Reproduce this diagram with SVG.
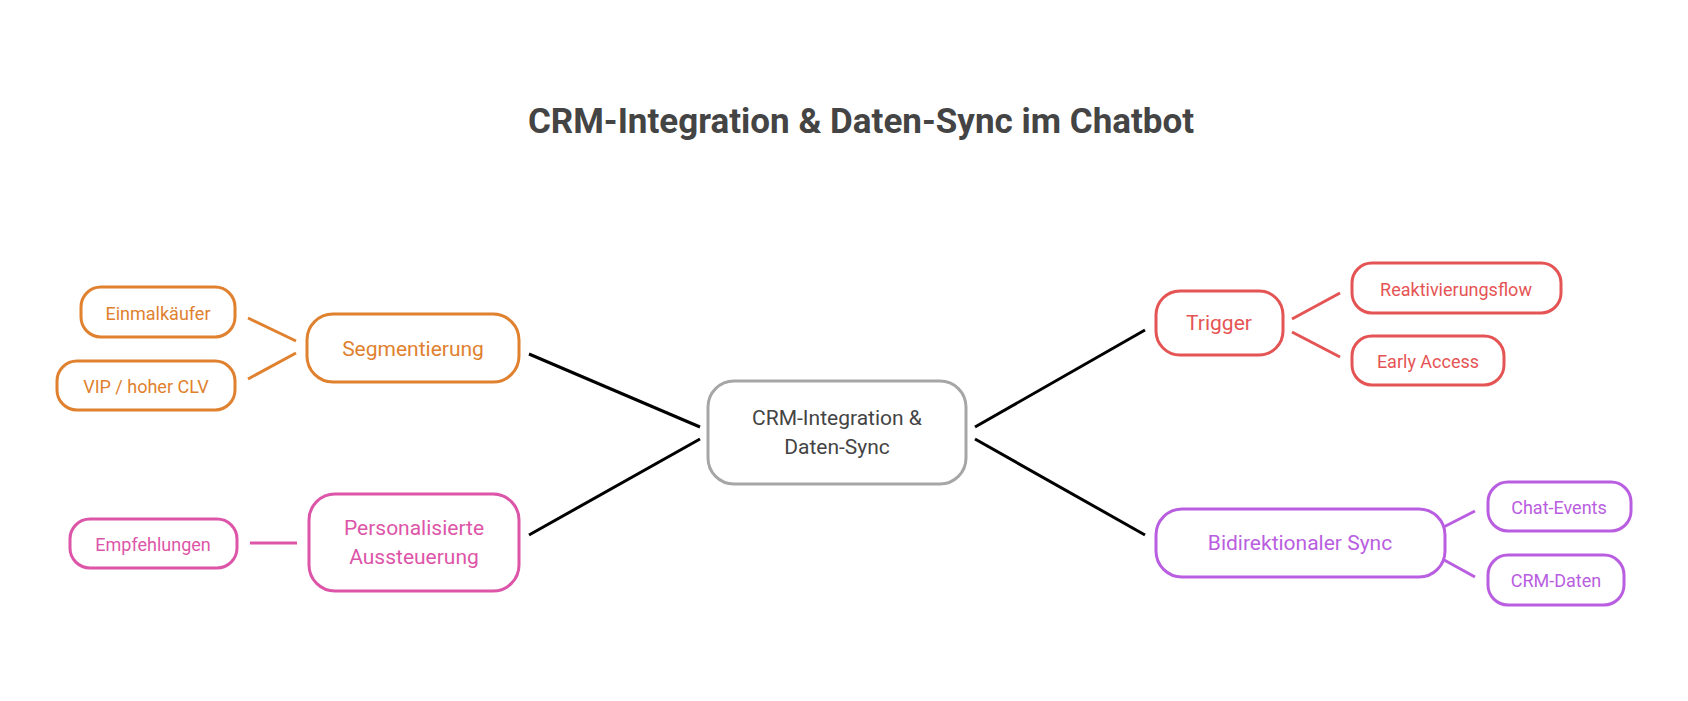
<svg xmlns="http://www.w3.org/2000/svg" width="1688" height="701" viewBox="0 0 1688 701">
<style>
text{font-family:Roboto,"Liberation Sans",sans-serif;text-anchor:middle;dominant-baseline:central}
rect{fill:#fff;stroke-width:3}
.o rect{stroke:#e0812f}.o text{fill:#e0812f}
.p rect{stroke:#dd55a8}.p text{fill:#dd55a8}
.r rect{stroke:#e55454}.r text{fill:#e55454}
.v rect{stroke:#b95ee0}.v text{fill:#b95ee0}
.s{font-size:18px}.m{font-size:21px}
line{stroke-width:3}
</style>
<rect x="0" y="0" width="1688" height="701" style="fill:#fff;stroke:none"/>
<text x="861" y="121" style="font-size:35px;font-weight:bold;fill:#444">CRM-Integration &amp; Daten-Sync im Chatbot</text>
<g id="connectors">
<g stroke="#000"><line x1="529" y1="354" x2="700" y2="427"/><line x1="529" y1="535" x2="700" y2="439"/><line x1="975" y1="427" x2="1145" y2="330"/><line x1="975" y1="439" x2="1145" y2="535"/></g>
<g stroke="#e0812f"><line x1="248" y1="318" x2="296" y2="341"/><line x1="248" y1="379" x2="296" y2="353"/></g>
<line x1="250" y1="543" x2="297" y2="543" stroke="#dd55a8"/>
<g stroke="#e55454"><line x1="1292" y1="319" x2="1340" y2="293"/><line x1="1292" y1="332" x2="1340" y2="357"/></g>
<g stroke="#b95ee0"><line x1="1426" y1="536" x2="1475" y2="511"/><line x1="1426" y1="550" x2="1475" y2="577"/></g>
</g>
<g id="center"><rect x="708" y="381" width="258" height="103" rx="26" style="stroke:#a6a6a6"/><text x="837" y="418" class="m" fill="#444">CRM-Integration &amp;</text><text x="837" y="447" class="m" fill="#444">Daten-Sync</text></g>
<g id="seg" class="o"><rect x="307" y="314" width="212" height="68" rx="26"/><text x="413" y="349" class="m">Segmentierung</text></g>
<g id="einmal" class="o"><rect x="81" y="287" width="154" height="50" rx="20"/><text x="158" y="313" class="s">Einmalkäufer</text></g>
<g id="vip" class="o"><rect x="57" y="361" width="178" height="49" rx="20"/><text x="146" y="386" class="s">VIP / hoher CLV</text></g>
<g id="pers" class="p"><rect x="309" y="494" width="210" height="97" rx="26"/><text x="414" y="528" class="m">Personalisierte</text><text x="414" y="557" class="m">Aussteuerung</text></g>
<g id="empf" class="p"><rect x="70" y="519" width="167" height="49" rx="20"/><text x="153" y="544" class="s">Empfehlungen</text></g>
<g id="trigger" class="r"><rect x="1156" y="291" width="127" height="64" rx="24"/><text x="1219" y="323" class="m">Trigger</text></g>
<g id="reakt" class="r"><rect x="1352" y="263" width="209" height="50" rx="20"/><text x="1456" y="289" class="s">Reaktivierungsflow</text></g>
<g id="early" class="r"><rect x="1352" y="336" width="152" height="49" rx="20"/><text x="1428" y="361" class="s">Early Access</text></g>
<g id="bidi" class="v"><rect x="1156" y="509" width="289" height="68" rx="26"/><text x="1300" y="543" class="m">Bidirektionaler Sync</text></g>
<g id="chat" class="v"><rect x="1488" y="482" width="143" height="49" rx="20"/><text x="1559" y="507" class="s">Chat-Events</text></g>
<g id="crmd" class="v"><rect x="1488" y="555" width="136" height="50" rx="20"/><text x="1556" y="580" class="s">CRM-Daten</text></g>
</svg>
